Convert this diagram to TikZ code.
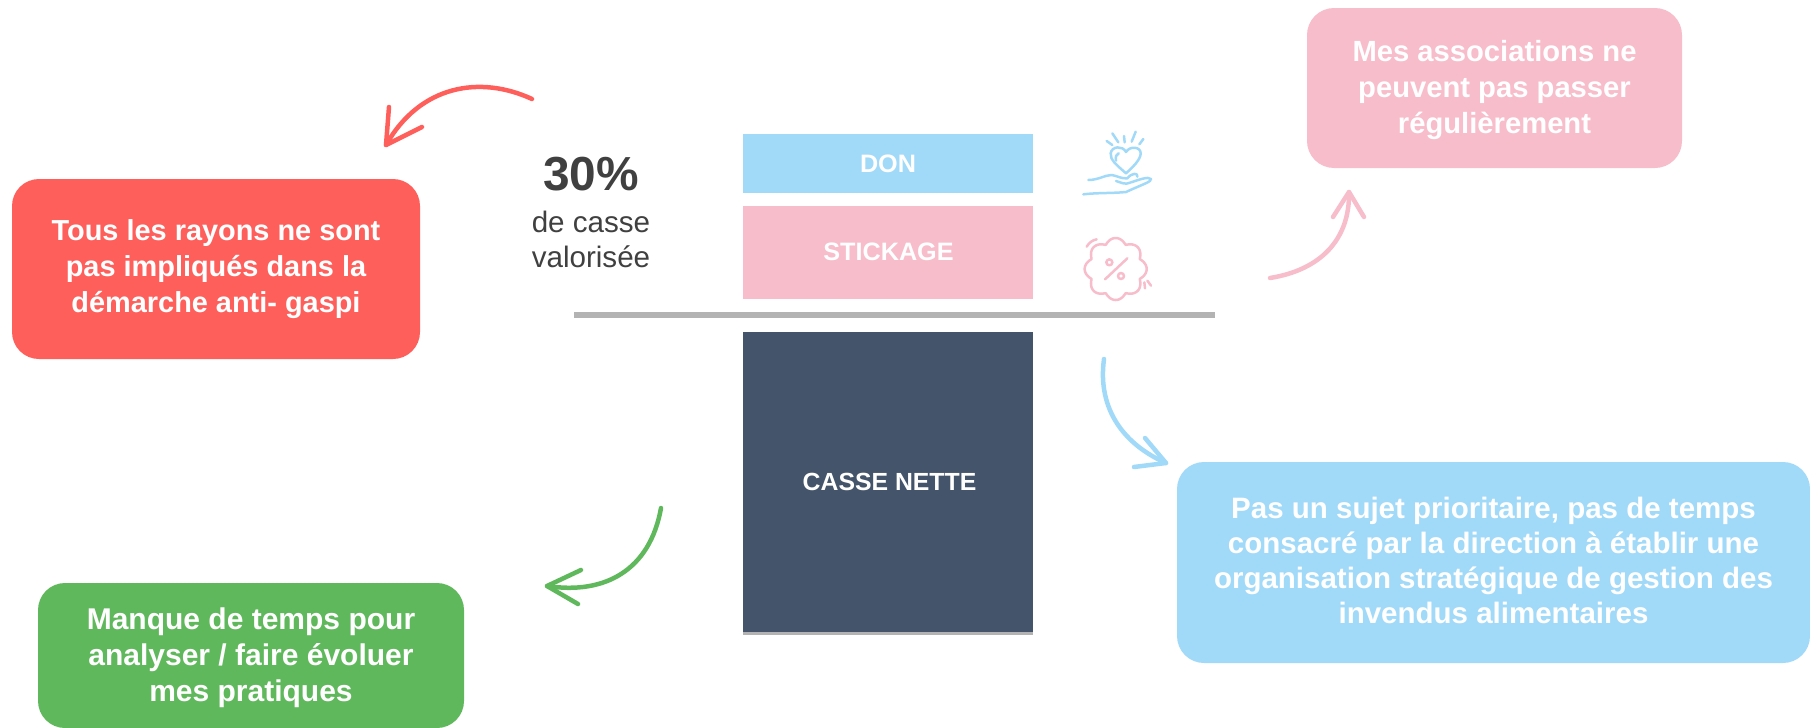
\documentclass[tikz,border=0pt]{standalone}
\usepackage{fontspec}
\setmainfont{Liberation Sans}
\definecolor{cred}{HTML}{FF5F5B}
\definecolor{cblue}{HTML}{A1D9F9}
\definecolor{cpink}{HTML}{F7BDCA}
\definecolor{cgreen}{HTML}{60B85C}
\definecolor{cdark}{HTML}{44546A}
\definecolor{cgray}{HTML}{B3B3B3}
\definecolor{ctext}{HTML}{404040}
\tikzset{
  callout/.style={rounded corners=13.5pt,inner sep=0pt,text=white,align=center},
  barbox/.style={inner sep=0pt,text=white,font=\fontsize{12.6}{15}\selectfont\bfseries,minimum width=145pt},
  curvearrow/.style={line width=2.25pt,line cap=round,line join=round},
  iconline/.style={line width=1.25pt,line cap=round,line join=round},
}
\begin{document}
\begin{tikzpicture}[x=0.5pt,y=-0.5pt]
\useasboundingbox (0,0) rectangle (1810,728);
% callouts
\node[callout,fill=cred,minimum width=204pt,minimum height=90pt,font=\fontsize{14.45}{18}\selectfont\bfseries] (red) at (216,269) {Tous les rayons ne sont\\pas impliqués dans la\\démarche anti- gaspi};
\node[callout,fill=cpink,minimum width=187.5pt,minimum height=80pt,font=\fontsize{14.6}{18}\selectfont\bfseries] (pink) at (1494.5,88) {};
\node[text=white,align=center,inner sep=0pt,font=\fontsize{14.6}{18}\selectfont\bfseries] (pinktext) at (1494.5,90.5) {Mes associations ne\\peuvent pas passer\\régulièrement};
\node[callout,fill=cblue,minimum width=316.5pt,minimum height=100.5pt] (blue) at (1493.5,562.5) {};
\node[text=white,align=center,inner sep=0pt,font=\fontsize{14.75}{17.5}\selectfont\bfseries] (bluetext) at (1493.5,560.5) {Pas un sujet prioritaire, pas de temps\\consacré par la direction à établir une\\organisation stratégique de gestion des\\invendus alimentaires};
\node[callout,fill=cgreen,minimum width=213pt,minimum height=72.5pt] (green) at (251,655.5) {};
\node[text=white,align=center,inner sep=0pt,font=\fontsize{15}{18}\selectfont\bfseries] (greentext) at (251,657.5) {Manque de temps pour\\analyser / faire évoluer\\mes pratiques};
% bars
\node[barbox,fill=cblue,minimum height=29.5pt] (don) at (888,163.5) {DON};
\node[barbox,fill=cpink,minimum height=46.5pt] (stick) at (888,252.5) {};
\node[inner sep=0pt,text=white,font=\fontsize{12.6}{15}\selectfont\bfseries] (sticktext) at (888.5,251.5) {STICKAGE};
\node[barbox,fill=cgray,minimum height=151.5pt] (nettebase) at (888,483.5) {};
\node[barbox,fill=cdark,minimum height=150pt] (nette) at (888,482) {};
\node[inner sep=0pt,text=white,font=\fontsize{12.4}{15}\selectfont\bfseries] (nettetext) at (889.5,482) {CASSE NETTE};
\coordinate (ruleL) at (574,315);
\coordinate (ruleR) at (1215,315);
\draw[cgray,line width=2.6pt] (ruleL) -- (ruleR);
% 30 %
\node[text=ctext,font=\fontsize{23.9}{28}\selectfont\bfseries,inner sep=0pt] (pct) at (591,174) {30\%};
\node[text=ctext,font=\fontsize{14.8}{17.5}\selectfont,align=center,inner sep=0pt] (pctlabel) at (591,239) {de casse\\valorisée};
% red arrow
\coordinate (rs) at (532,99); \coordinate (rt) at (386,145);
\coordinate (rb1) at (389,107); \coordinate (rb2) at (422,127);
\draw[cred,curvearrow] (rs) .. controls (480,75) and (420,85) .. (rt);
\draw[cred,curvearrow] (rb1) -- (rt) -- (rb2);
% pink arrow
\coordinate (ps) at (1270,278); \coordinate (pt) at (1349,192);
\coordinate (pb1) at (1333,217); \coordinate (pb2) at (1364,217);
\draw[cpink,curvearrow] (ps) .. controls (1320,270) and (1350,240) .. (pt);
\draw[cpink,curvearrow] (pb1) -- (pt) -- (pb2);
% blue arrow
\coordinate (bs) at (1104,359); \coordinate (bt) at (1166,463);
\coordinate (bb1) at (1145,438); \coordinate (bb2) at (1134,467);
\draw[cblue,curvearrow] (bs) .. controls (1097,410) and (1125,445) .. (bt);
\draw[cblue,curvearrow] (bb1) -- (bt) -- (bb2);
% green arrow
\coordinate (gs) at (661,508); \coordinate (gt) at (547,586);
\coordinate (gb1) at (581,570); \coordinate (gb2) at (578,604);
\draw[cgreen,curvearrow] (gs) .. controls (650,570) and (605,595) .. (gt);
\draw[cgreen,curvearrow] (gb1) -- (gt) -- (gb2);
% heart-in-hand icon
\begin{scope}[shift={(1050,110)},x=0.16667pt,y=-0.16667pt]
\draw[cblue,iconline] (228,190) .. controls (200,165) and (180,150) .. (182,130) .. controls (185,108) and (218,106) .. (228,126) .. controls (240,106) and (274,110) .. (272,132) .. controls (270,150) and (250,170) .. (228,190) -- cycle;
\draw[cblue,iconline] (198,152) .. controls (195,140) and (200,132) .. (206,130);
\draw[cblue,iconline] (170,93) -- (187,105);
\draw[cblue,iconline] (187,70) -- (205,97);
\draw[cblue,iconline] (222,78) -- (224,97);
\draw[cblue,iconline] (257,65) -- (245,95);
\draw[cblue,iconline] (280,87) -- (268,103);
\draw[cblue,iconline] (115,210) .. controls (145,210) and (165,195) .. (185,195) .. controls (200,197) and (215,207) .. (232,205) .. controls (245,188) and (265,188) .. (262,200);
\draw[cblue,iconline] (198,213) .. controls (215,218) and (225,225) .. (240,218) .. controls (265,210) and (295,198) .. (303,207) .. controls (305,215) and (280,222) .. (228,246) .. controls (190,250) and (140,248) .. (100,253);
\end{scope}
% percent-burst icon
\begin{scope}[shift={(1050,110)},x=0.16667pt,y=-0.16667pt]
\draw[cpink,iconline] plot[domain=0:360,samples=181] ({197+(78+15*abs(cos(4*\x)))*cos(\x)},{477+(78+15*abs(cos(4*\x)))*sin(\x)}) -- cycle;
\draw[cpink,iconline] (232,445) -- (165,508);
\draw[cpink,iconline] (178,457) circle[radius=9];
\draw[cpink,iconline] (213,498) circle[radius=9];
\draw[cpink,iconline] (110,410) .. controls (117,398) and (128,390) .. (140,388);
\draw[cpink,iconline] (283,517) -- (285,535);
\draw[cpink,iconline] (292,512) -- (303,527);
\end{scope}
\end{tikzpicture}
\end{document}
